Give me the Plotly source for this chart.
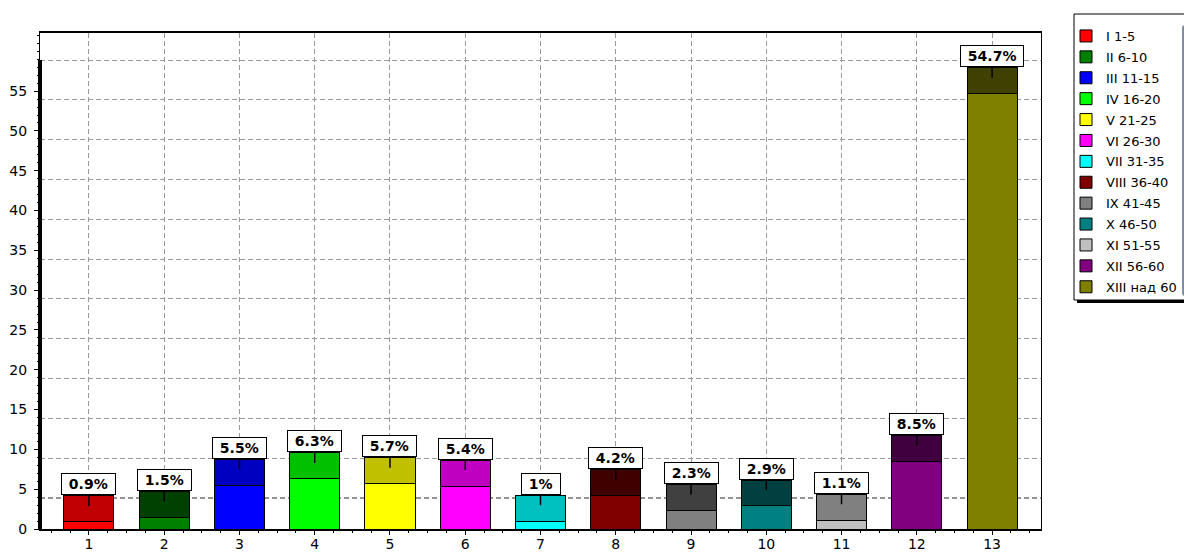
import plotly.graph_objects as go

categories = list(range(1, 14))
values = [0.9, 1.5, 5.5, 6.3, 5.7, 5.4, 1, 4.2, 2.3, 2.9, 1.1, 8.5, 54.7]
value_labels = ["0.9%", "1.5%", "5.5%", "6.3%", "5.7%", "5.4%", "1%", "4.2%",
                "2.3%", "2.9%", "1.1%", "8.5%", "54.7%"]
series_names = ["I 1-5", "II 6-10", "III 11-15", "IV 16-20", "V 21-25", "VI 26-30",
                "VII 31-35", "VIII 36-40", "IX 41-45", "X 46-50", "XI 51-55",
                "XII 56-60", "XIII над 60"]
colors = ["#FF0000", "#008000", "#0000FF", "#00FF00", "#FFFF00", "#FF00FF", "#00FFFF",
          "#800000", "#808080", "#008080", "#C0C0C0", "#800080", "#808000"]
cap_colors = ["#C00000", "#004000", "#0000C0", "#00C000", "#C0C000", "#C000C0", "#00C0C0",
              "#400000", "#404040", "#004040", "#808080", "#400040", "#404000"]
y_ticks = [0, 5, 10, 15, 20, 25, 30, 35, 40, 45, 50, 55]

CAP = 3.25       # height of darker cap drawn above each bar
GRID_OFF = 1.1   # back-wall grid offset
BAR_W = 0.665
FONT = "DejaVu Sans"

# plot-area pixel geometry (for paper-coordinate helpers)
W, H = 1184, 552
ML, MR, MT, MB = 40, 143, 33, 23
PW, PH = W - ML - MR, H - MT - MB


def px_x(p):
    return (p - ML) / PW


def px_y(p):
    return (H - MB - p) / PH


fig = go.Figure()
for c, v, n, col in zip(categories, values, series_names, colors):
    fig.add_trace(go.Bar(x=[c], y=[v], name=n, width=BAR_W, legendgroup=n,
                         marker=dict(color=col, line=dict(color="black", width=1))))
fig.add_trace(go.Bar(x=categories, y=[CAP] * len(categories), width=BAR_W, showlegend=False,
                     marker=dict(color=cap_colors, line=dict(color="black", width=1)),
                     hoverinfo="skip"))
fig.add_trace(go.Scatter(x=[], y=[], yaxis="y2", showlegend=False))

for c, v, t in zip(categories, values, value_labels):
    fig.add_annotation(x=c, y=v + CAP, xref="x", yref="y",
                       text="\u00a0" + t + "\u00a0", showarrow=True, arrowhead=0,
                       arrowwidth=1.5, arrowcolor="black", ax=0, ay=-21.5, yshift=-10,
                       standoff=0, startstandoff=0,
                       font=dict(family=FONT, size=14, color="black", weight="bold"),
                       bgcolor="white", bordercolor="black", borderwidth=1, borderpad=2)

# black dashed line on the first back-wall gridline
fig.add_shape(type="line", xref="paper", x0=0, x1=1, yref="y2", y0=5, y1=5,
              line=dict(color="black", width=1, dash="5px,3px"), layer="below")
# thick left axis line
fig.add_shape(type="line", xref="paper", x0=0, x1=0, yref="y2", y0=GRID_OFF, y1=60,
              line=dict(color="black", width=4), layer="above")
# legend frame with drop shadow
fig.add_shape(type="rect", xref="paper", yref="paper",
              x0=px_x(1077), x1=px_x(1200), y0=px_y(303), y1=px_y(17),
              fillcolor="black", line=dict(width=0), layer="above")
fig.add_shape(type="rect", xref="paper", yref="paper",
              x0=px_x(1074), x1=px_x(1200), y0=px_y(300), y1=px_y(14),
              fillcolor="white", line=dict(color="black", width=1), layer="above")

RANGE_TOP = 62.3
fig.update_layout(
    width=W, height=H,
    margin=dict(l=ML, r=MR, t=MT, b=MB, autoexpand=False),
    paper_bgcolor="white", plot_bgcolor="white",
    barmode="stack", bargap=0.3,
    font=dict(family=FONT, size=14, color="black"),
    xaxis=dict(range=[0.35, 13.65], tickmode="array", tickvals=categories,
               ticktext=[str(c) for c in categories], automargin=False,
               showgrid=True, gridcolor="#9a9a9a", griddash="5px,3px", gridwidth=1,
               showline=True, linecolor="black", linewidth=2, mirror=True,
               ticks="outside", ticklen=4, tickcolor="black", ticklabelstandoff=-3,
               minor=dict(dtick=0.25, tick0=0, ticks="outside", ticklen=2, tickcolor="black"),
               zeroline=False, tickfont=dict(size=14)),
    yaxis=dict(range=[0, RANGE_TOP], tickmode="array", tickvals=y_ticks, automargin=False,
               showgrid=False, zeroline=False,
               showline=True, linecolor="black", linewidth=1, mirror=True,
               ticks="outside", ticklen=5, tickcolor="black", ticklabelstandoff=4,
               minor=dict(dtick=1, ticks="outside", ticklen=2, tickcolor="black"),
               tickfont=dict(size=14)),
    yaxis2=dict(range=[GRID_OFF, RANGE_TOP + GRID_OFF], overlaying="y", anchor="x",
                tick0=0, dtick=5, showgrid=True, gridcolor="#9a9a9a", automargin=False,
                griddash="5px,3px", gridwidth=1, showticklabels=False, ticks="",
                zeroline=False, showline=False),
    legend=dict(x=px_x(1066), y=px_y(21), xanchor="left", yanchor="top",
                traceorder="grouped", tracegroupgap=1,
                bgcolor="rgba(0,0,0,0)", borderwidth=0,
                font=dict(family=FONT, size=13, color="black")),
    showlegend=True,
)

fig.write_html("out.html", config={"displayModeBar": False},
               post_script="document.body.style.margin='0';document.body.style.overflow='hidden';")
